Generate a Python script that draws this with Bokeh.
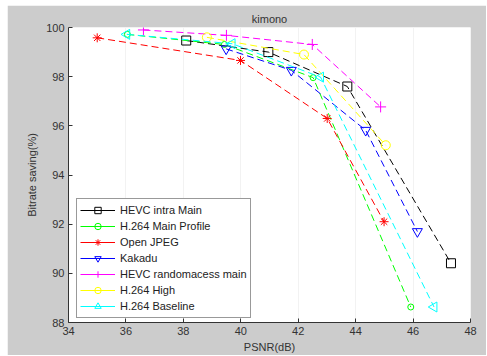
import numpy as np
from bokeh.plotting import figure
from bokeh.layouts import row, column
from bokeh.models import Legend, LegendItem, Range1d, FixedTicker, Spacer
from bokeh.embed import file_html
from bokeh.resources import INLINE

# ---- data ----
hevc_intra_x = [38.1, 40.96, 43.71, 47.32]
hevc_intra_y = [99.47, 99.0, 97.6, 90.41]

h264_main_x = [36.05, 39.43, 42.52, 45.92]
h264_main_y = [99.72, 99.31, 97.96, 88.63]

openjpeg_x = [35.0, 39.99, 43.01, 44.99]
openjpeg_y = [99.58, 98.66, 96.3, 92.1]

kakadu_x = [39.49, 41.76, 44.35, 46.15]
kakadu_y = [99.13, 98.26, 95.82, 91.7]

hevc_ra_x = [36.61, 39.5, 42.49, 44.87]
hevc_ra_y = [99.9, 99.68, 99.31, 96.77]

h264_high_x = [38.82, 42.2, 45.05]
h264_high_y = [99.6, 98.9, 95.21]

h264_base_x = [36.03, 39.7, 42.78, 46.73]
h264_base_y = [99.72, 99.34, 97.98, 88.63]

series_names = ["HEVC intra Main", "H.264 Main Profile", "Open JPEG", "Kakadu",
                "HEVC randomacess main", "H.264 High", "H.264 Baseline"]
x_ticks = [34, 36, 38, 40, 42, 44, 46, 48]
y_ticks = [88, 90, 92, 94, 96, 98, 100]

FONT = "Liberation Sans"

p = figure(width=479, height=350, output_backend="svg", toolbar_location=None,
           x_range=Range1d(34, 48), y_range=Range1d(88, 100),
           title="kimono",
           min_border_left=61, min_border_right=16, min_border_top=22, min_border_bottom=33)

p.background_fill_color = "white"
p.border_fill_color = "#cccccc"
p.outline_line_color = None

p.title.align = "center"
p.title.text_font = FONT
p.title.text_font_size = "11px"
p.title.text_font_style = "normal"
p.title.text_color = "#333333"
p.title.standoff = 5

for ax in (p.xaxis[0], p.yaxis[0]):
    ax.major_label_text_font = FONT
    ax.major_label_text_font_size = "11px"
    ax.major_label_text_color = "#333333"
    ax.axis_label_text_font = FONT
    ax.axis_label_text_font_size = "11px"
    ax.axis_label_text_font_style = "normal"
    ax.axis_label_text_color = "#333333"
    ax.axis_line_color = "#333333"
    ax.major_tick_line_color = "#333333"
    ax.major_tick_in = 4
    ax.major_tick_out = 0
    ax.minor_tick_line_color = None
    ax.axis_label_standoff = 5
    ax.major_label_standoff = 4

p.xaxis.ticker = FixedTicker(ticks=x_ticks)
p.yaxis.ticker = FixedTicker(ticks=y_ticks)
p.xaxis.axis_label = "PSNR(dB)"
p.yaxis.axis_label = "Bitrate saving(%)"
p.xaxis.axis_label_standoff = 3
p.xaxis.major_label_standoff = 4

p.xgrid.grid_line_color = "#f2f2f2"
p.ygrid.grid_line_color = None

specs = [
    (hevc_intra_x, hevc_intra_y, "#000000", "square", 9, 0.0),
    (h264_main_x, h264_main_y, "#00ff00", "circle", 6, 0.0),
    (openjpeg_x, openjpeg_y, "#ff0000", "asterisk", 9, 0.0),
    (kakadu_x, kakadu_y, "#0000ff", "inverted_triangle", 10, 0.0),
    (hevc_ra_x, hevc_ra_y, "#ff00ff", "cross", 11, 0.0),
    (h264_high_x, h264_high_y, "#ffff00", "circle", 9, 0.0),
    (h264_base_x, h264_base_y, "#00ffff", "triangle", 10, np.pi / 2),
]

items = []
for (xs, ys, col, mk, sz, ang), name in zip(specs, series_names):
    p.line(xs, ys, line_color=col, line_width=1, line_dash="7 4")
    p.scatter(xs, ys, marker=mk, size=sz, angle=ang, line_color=col,
              fill_color=None, line_width=1)
    # legend swatch: solid line + marker (points placed outside the visible ranges)
    lr = p.line([-100, -99], [-100, -99], line_color=col, line_width=1)
    sr = p.scatter([-100], [-100], marker=mk, size=sz, angle=ang, line_color=col,
                   fill_color=None, line_width=1)
    items.append(LegendItem(label=name, renderers=[lr, sr]))

legend = Legend(items=items, location=(8, 4))
legend.label_text_font = FONT
legend.label_text_font_size = "11px"
legend.label_text_color = "#222222"
legend.glyph_width = 35
legend.glyph_height = 16
legend.label_height = 16
legend.spacing = 0
legend.padding = 3
legend.margin = 0
legend.label_standoff = 5
legend.border_line_color = "#333333"
legend.background_fill_color = "white"
legend.background_fill_alpha = 1.0
p.add_layout(legend, "center")

layout = column(Spacer(height=5), row(Spacer(width=7), p))
open("out.html", "w").write(file_html(layout, INLINE))
